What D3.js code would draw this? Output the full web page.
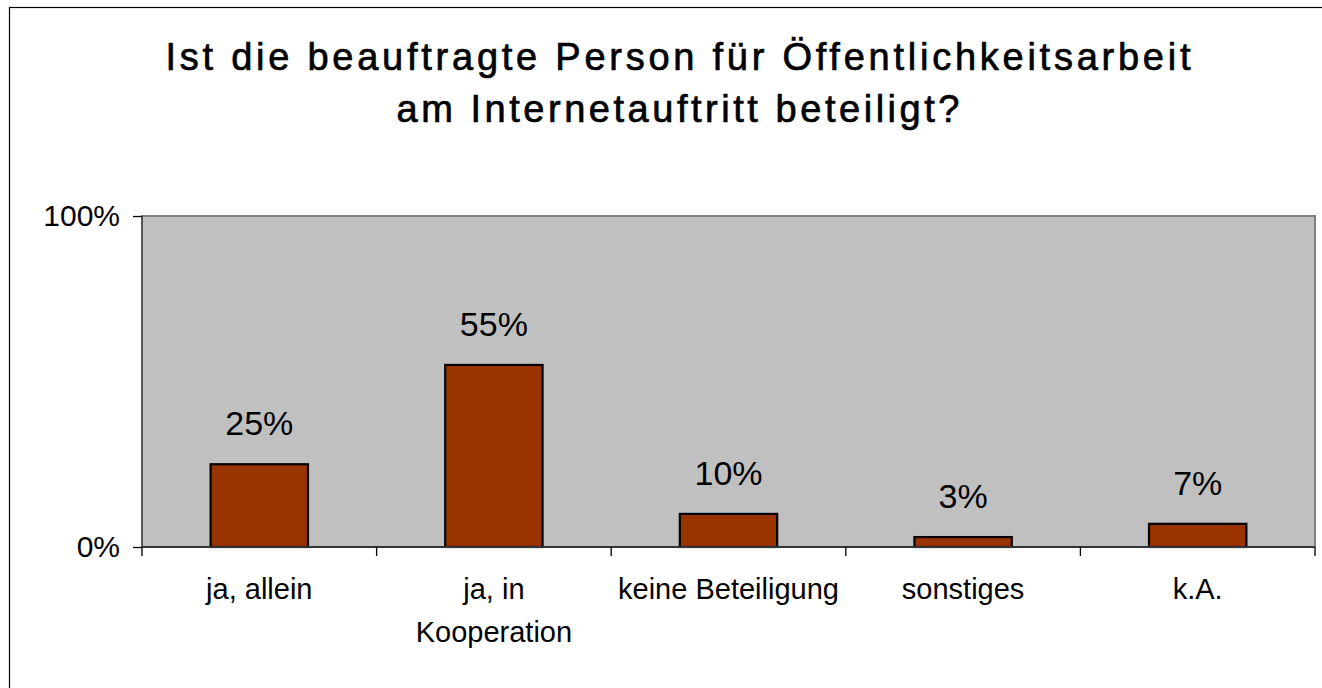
<!DOCTYPE html>
<html><head><meta charset="utf-8">
<script src="https://cdn.jsdelivr.net/npm/d3@7"></script>
<style>
html,body{margin:0;padding:0;background:#fff;}
svg{display:block;font-family:"Liberation Sans",Arial,sans-serif;}
</style></head>
<body>
<svg id="chart" width="1322" height="688"></svg>
<script>
const titleLines = ["Ist die beauftragte Person für Öffentlichkeitsarbeit", "am Internetauftritt beteiligt?"];
const titleWidths = [1025, 563];
const categories = ["ja, allein", "ja, in\nKooperation", "keine Beteiligung", "sonstiges", "k.A."];
const values = [25, 55, 10, 3, 7];
const yTicks = [0, 100];

const svg = d3.select("#chart");
const W = 1322, H = 688;
const plot = {left: 142, top: 216, right: 1315, bottom: 547};

// outer frame
svg.append("rect").attr("x", 9.5).attr("y", 7.5).attr("width", W + 20).attr("height", H + 20)
  .attr("fill", "#fff").attr("stroke", "#000").attr("stroke-width", 1.2);

// title
svg.append("g").selectAll("text").data(titleLines).join("text")
  .attr("x", 678).attr("y", (d, i) => 70 + i * 52)
  .attr("text-anchor", "middle").attr("font-size", 38)
  .attr("textLength", (d, i) => titleWidths[i]).attr("lengthAdjust", "spacing")
  .attr("fill", "#000").attr("stroke", "#000").attr("stroke-width", 0.7).text(d => d);

const x = d3.scaleBand().domain(categories).range([plot.left, plot.right]).paddingInner(0.585).paddingOuter(0.2925);
const y = d3.scaleLinear().domain([0, 100]).range([plot.bottom, plot.top]);

// plot area
svg.append("rect").attr("x", plot.left).attr("y", plot.top)
  .attr("width", plot.right - plot.left).attr("height", plot.bottom - plot.top)
  .attr("fill", "#c0c0c0").attr("stroke", "#808080").attr("stroke-width", 2);

// bars
svg.append("g").selectAll("rect").data(values).join("rect")
  .attr("x", (d, i) => x(categories[i])).attr("width", x.bandwidth())
  .attr("y", d => y(d)).attr("height", d => y(0) - y(d))
  .attr("fill", "#993300").attr("stroke", "#000").attr("stroke-width", 2.2);

// value labels
svg.append("g").selectAll("text").data(values).join("text")
  .attr("x", (d, i) => x(categories[i]) + x.bandwidth() / 2)
  .attr("y", d => y(d) - 29)
  .attr("text-anchor", "middle").attr("font-size", 34).attr("fill", "#000")
  .text(d => d + "%");

// y axis
const yAxis = d3.axisLeft(y).tickValues(yTicks).tickFormat(d => d + "%").tickSize(9).tickPadding(13);
const gy = svg.append("g").attr("transform", `translate(${plot.left},0)`).call(yAxis);
gy.select(".domain").attr("stroke", "#555").attr("stroke-width", 2).attr("d", `M0,${plot.top}V${plot.bottom + 9}`);
gy.selectAll(".tick line").attr("stroke", "#000").attr("stroke-width", 1.3);
gy.selectAll(".tick text").attr("font-size", 30).attr("fill", "#000").attr("dy", "0.33em")
  .style("font-family", "'Liberation Sans',Arial,sans-serif");

// x axis
const bounds = d3.range(categories.length + 1).map(i => plot.left + i * (plot.right - plot.left) / categories.length);
const gx = svg.append("g");
gx.append("line").attr("x1", plot.left).attr("x2", plot.right).attr("y1", plot.bottom).attr("y2", plot.bottom)
  .attr("stroke", "#333").attr("stroke-width", 2);
gx.selectAll("line.tk").data(bounds.slice(1)).join("line").attr("class", "tk")
  .attr("x1", d => d).attr("x2", d => d).attr("y1", plot.bottom).attr("y2", plot.bottom + 9)
  .attr("stroke", "#000").attr("stroke-width", 1.3);
const lbl = gx.selectAll("text").data(categories).join("text")
  .attr("x", d => x(d) + x.bandwidth() / 2).attr("y", 599)
  .attr("text-anchor", "middle").attr("font-size", 29).attr("fill", "#000");
lbl.selectAll("tspan").data(d => d.split("\n")).join("tspan")
  .attr("x", function() { return this.parentNode.getAttribute("x"); })
  .attr("dy", (d, i) => i === 0 ? 0 : 43).text(d => d);
</script>
</body></html>
